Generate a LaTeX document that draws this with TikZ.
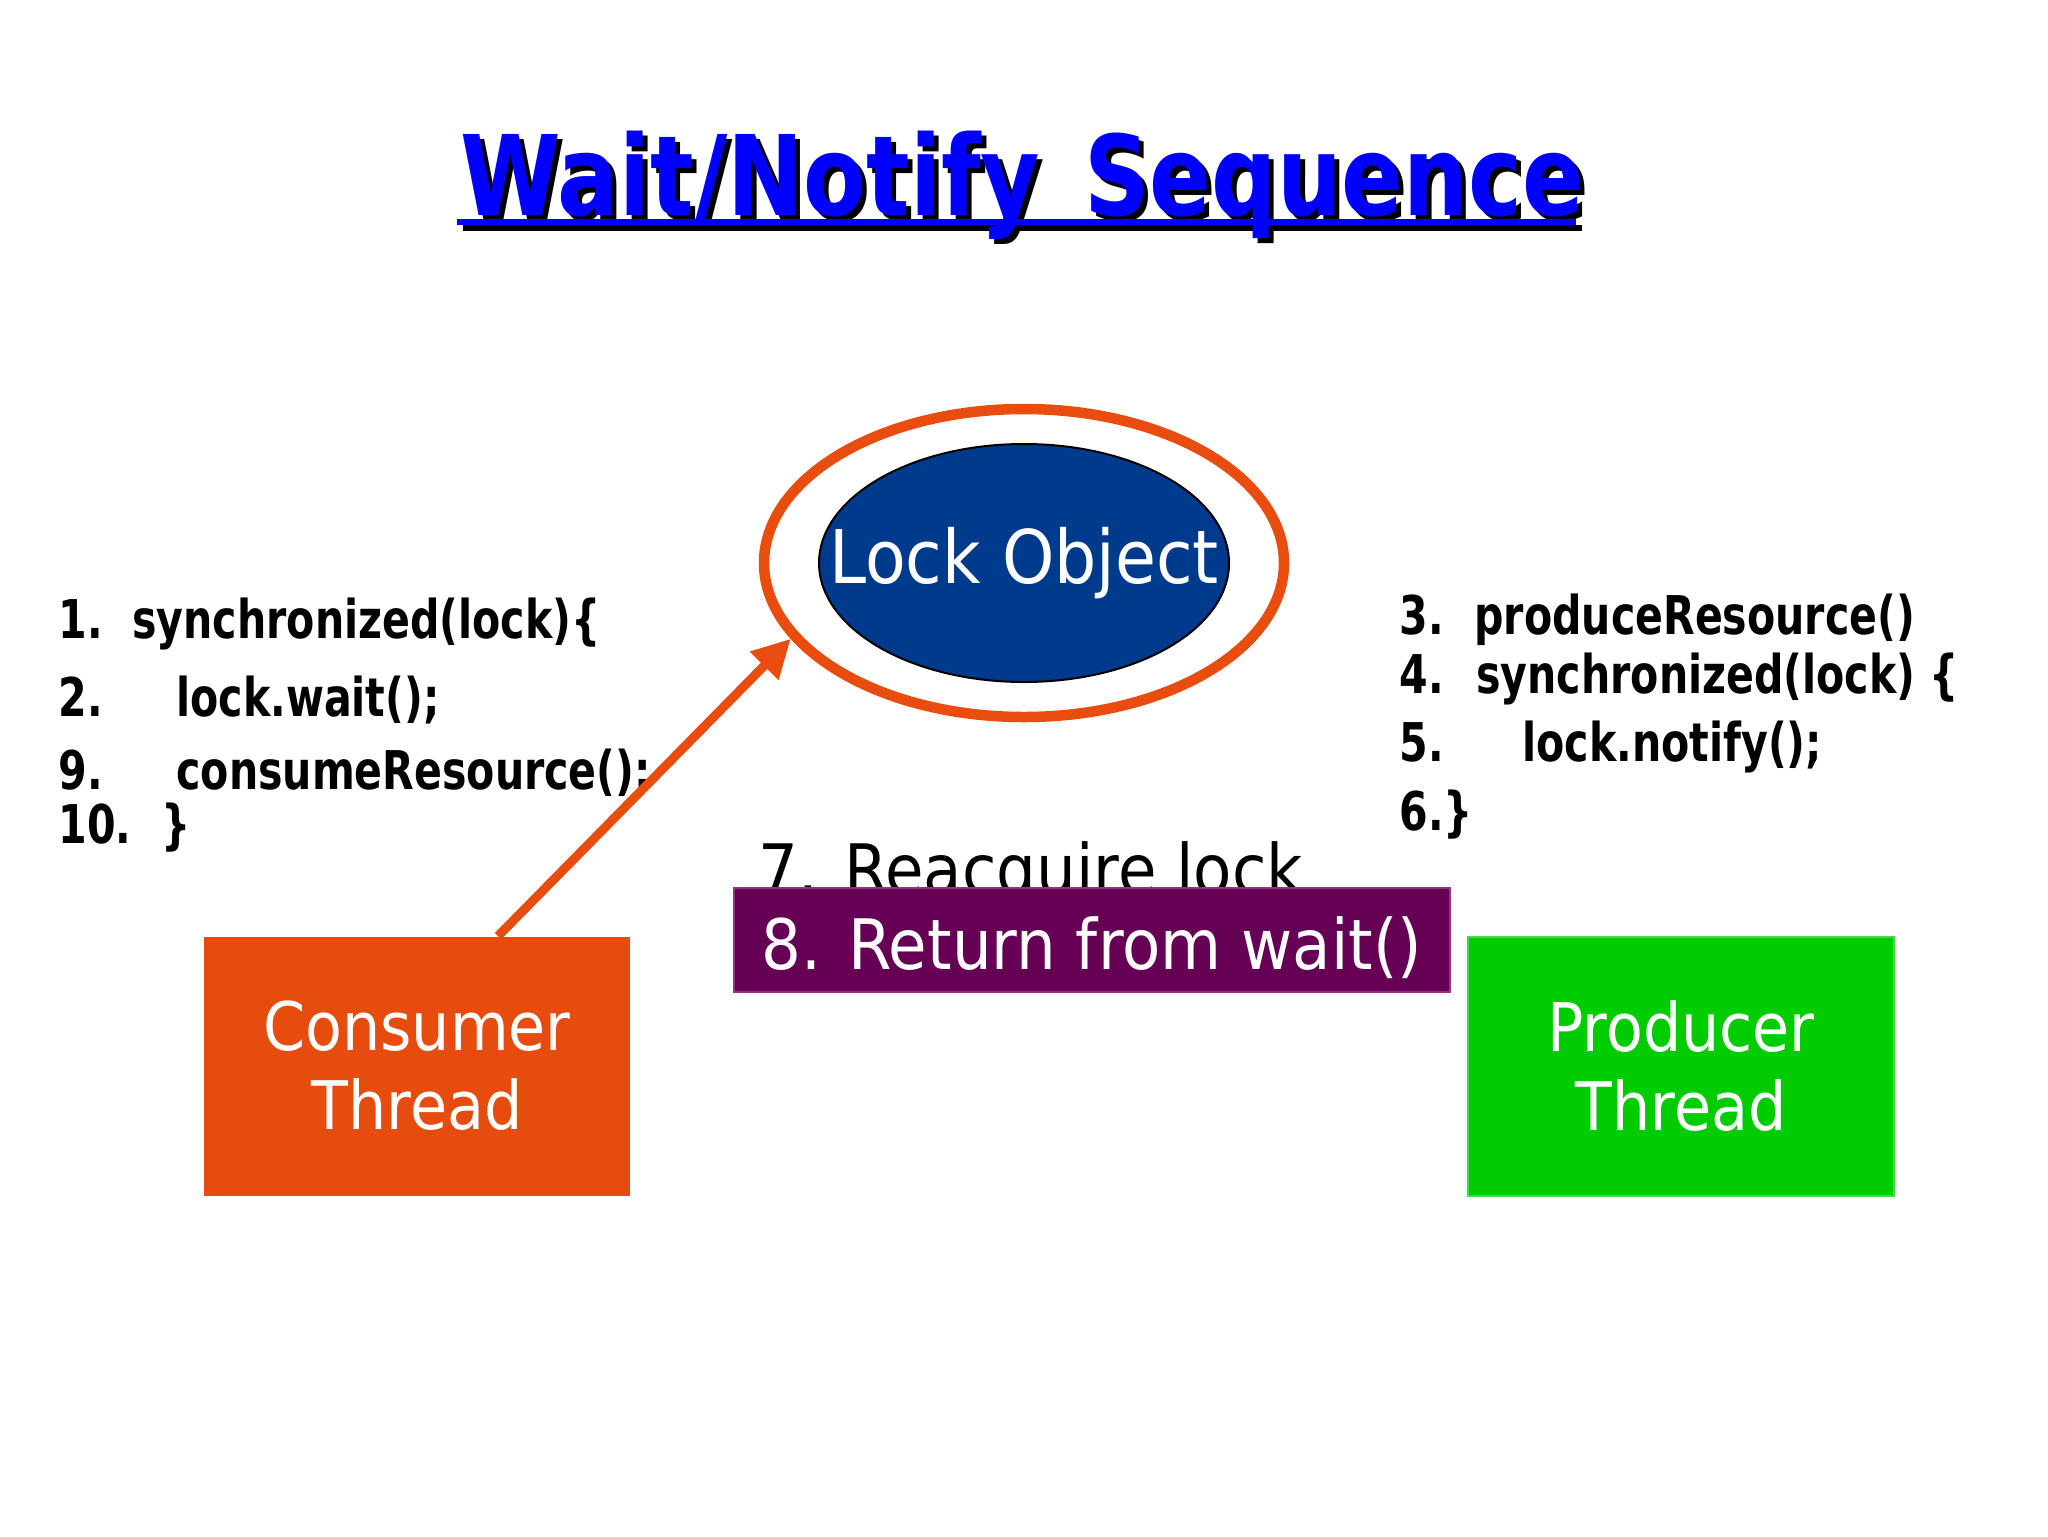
\documentclass[tikz,border=0pt]{standalone}
\usepackage{fontspec}
\usetikzlibrary{shapes.geometric,arrows.meta,calc}
\newfontfamily\mainf[FakeStretch=0.9]{DejaVu Sans}
\newfontfamily\codef[FakeStretch=0.77]{DejaVu Sans}
\newfontfamily\titlef[FakeStretch=0.82]{DejaVu Sans}
\definecolor{ringorange}{RGB}{232,76,14}
\definecolor{consorange}{RGB}{230,76,14}
\definecolor{lockblue}{RGB}{0,58,140}
\definecolor{titleblue}{RGB}{0,0,255}
\definecolor{prodgreen}{RGB}{0,204,0}
\definecolor{prodedge}{RGB}{70,215,70}
\definecolor{purp}{RGB}{102,0,85}
\definecolor{purpedge}{RGB}{150,50,130}
\begin{document}
\begin{tikzpicture}[x=0.5pt,y=-0.5pt,
  codetext/.style={anchor=base west, inner sep=0pt, font=\codef\bfseries\fontsize{26.7}{32}\selectfont},
  titletext/.style={anchor=base west, inner sep=0pt, font=\titlef\bfseries\fontsize{55.6}{60}\selectfont},
  threadbox/.style={rectangle, minimum width=213pt, minimum height=129.5pt, inner sep=0pt, text=white, align=center, font=\mainf\fontsize{33.5}{39.5}\selectfont},
  bigtext/.style={inner sep=0pt, font=\mainf\fontsize{34.8}{40}\selectfont},
  arrowline/.style={line width=4.5pt, draw=ringorange, -{Triangle[length=19pt,width=19pt]}}
]
\useasboundingbox[fill=white] (0,0) rectangle (2048,1536);

% title
\node[titletext, text=black] (titleshadow) at (465,220) {Wait/Notify\hspace{22pt}Sequence};
\fill[black] (463,225) rectangle (1582,231);
\node[titletext, text=titleblue] (title) at (460,215) {Wait/Notify\hspace{22pt}Sequence};
\fill[titleblue] (457,219) rectangle (1576,225);

% lock object
\node[ellipse, draw=ringorange, line width=5.25pt, minimum width=260pt, minimum height=154pt, inner sep=0pt] (ring) at (1024,563) {};
\node[ellipse, draw=black, line width=1pt, fill=lockblue, minimum width=205pt, minimum height=119pt, inner sep=0pt] (lock) at (1024,563) {};
\node[inner sep=0pt, text=white, font=\mainf\fontsize{37}{40}\selectfont] (locktext) at (lock.center) {Lock Object};

% consumer code
\node[codetext] (l1n) at (58,638) {1.};
\node[codetext] (l1c) at (132,638) {synchronized(lock)\{};
\node[codetext] (l2n) at (58,716) {2.};
\node[codetext] (l2c) at (176,716) {lock.wait();};
\node[codetext] (l9n) at (58,789) {9.};
\node[codetext] (l9c) at (176,789) {consumeResource();};
\node[codetext] (l10n) at (58,843) {10.};
\node[codetext] (l10c) at (161,843) {\}};

% producer code
\node[codetext] (r3n) at (1399,634) {3.};
\node[codetext] (r3c) at (1474,634) {produceResource()};
\node[codetext] (r4n) at (1399,693) {4.};
\node[codetext] (r4c) at (1476,693) {synchronized(lock) \{};
\node[codetext] (r5n) at (1399,761) {5.};
\node[codetext] (r5c) at (1522,761) {lock.notify();};
\node[codetext] (r6n) at (1399,830) {6.\}};

% steps 7 and 8
\node[bigtext, anchor=base west] (reacq) at (758,894) {7. Reacquire lock};
\node[fill=purp, draw=purpedge, line width=0.8pt, minimum width=358pt, minimum height=52pt, inner sep=0pt] (retbox) at (1092,940) {};
\node[bigtext, anchor=base, text=white] (rettext) at (1092,969) {8. Return from wait()};

% threads
\node[threadbox, fill=consorange] (consumer) at (417,1066) {Consumer\\Thread};
\node[threadbox, fill=prodgreen, draw=prodedge, line width=1pt] (producer) at (1681,1066) {Producer\\Thread};

% arrow
\draw[arrowline] ($(consumer.north)+(81,0)$) -- (ring.198);
\end{tikzpicture}
\end{document}
